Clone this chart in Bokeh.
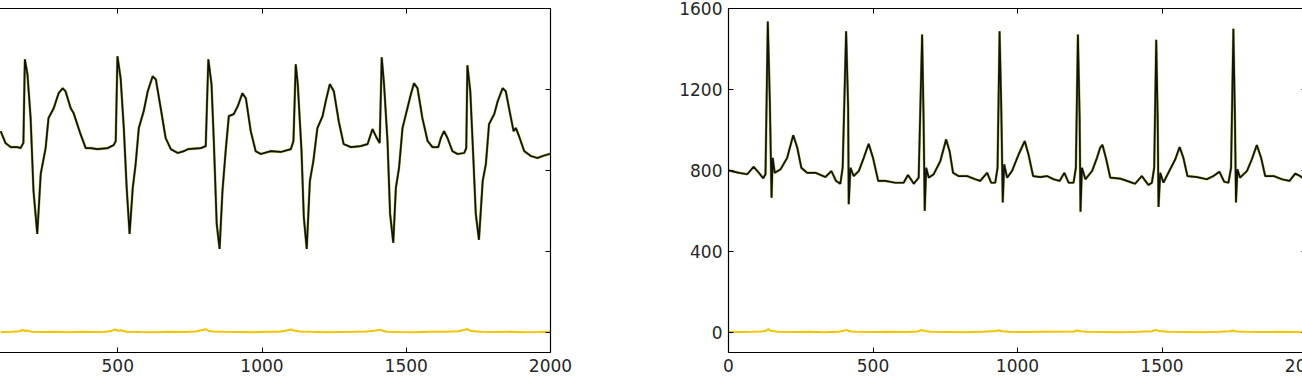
from bokeh.plotting import figure
from bokeh.models import Range1d, LinearAxis, FixedTicker
from bokeh.layouts import row
from bokeh.embed import file_html
from bokeh.resources import INLINE

# ---------------- data ----------------
x_ticks = [0, 500, 1000, 1500, 2000]
y_ticks = [0, 400, 800, 1200, 1600]

left_x = [94, 111, 129, 153, 163, 173, 178, 187, 198, 208,
          221, 233, 250, 260, 278, 295, 309, 319, 337, 347,
          371, 389, 406, 430, 465, 486, 493, 499, 510, 521,
          531, 541, 552, 562, 573, 590, 604, 621, 632, 649,
          666, 684, 708, 729, 743, 788, 805, 814, 825, 833,
          843, 853, 863, 874, 885, 902, 916, 932, 944, 961,
          978, 996, 1030, 1065, 1100, 1109, 1117, 1124, 1137, 1145,
          1155, 1166, 1178, 1192, 1210, 1221, 1235, 1249, 1266, 1283,
          1308, 1342, 1366, 1383, 1398, 1408, 1415, 1423, 1435, 1444,
          1455, 1464, 1475, 1487, 1504, 1516, 1527, 1539, 1556, 1574,
          1591, 1611, 1620, 1631, 1643, 1660, 1678, 1701, 1708, 1712,
          1722, 1733, 1741, 1752, 1765, 1776, 1787, 1805, 1817, 1834,
          1845, 1863, 1872, 1880, 1891, 1909, 1932, 1955, 1973, 1996,
          2000]
left_ecg = [994, 935, 915, 915, 910, 936, 1349, 1275, 1058, 698,
            486, 782, 910, 1058, 1107, 1181, 1206, 1191, 1107, 1083,
            979, 910, 910, 905, 910, 925, 945, 1364, 1255, 1009,
            713, 486, 713, 831, 1009, 1093, 1191, 1265, 1250, 1107,
            960, 905, 886, 895, 905, 910, 920, 1349, 1226, 945,
            536, 412, 698, 895, 1068, 1078, 1117, 1181, 1157, 994,
            895, 881, 895, 891, 905, 945, 1324, 1226, 895, 568,
            412, 748, 846, 1009, 1068, 1142, 1226, 1191, 1043, 930,
            915, 920, 930, 1004, 960, 935, 1359, 1226, 945, 585,
            442, 713, 812, 1009, 1107, 1176, 1231, 1206, 1058, 945,
            915, 915, 960, 994, 960, 895, 881, 886, 910, 1319,
            1191, 846, 585, 457, 748, 831, 1029, 1078, 1142, 1206,
            1191, 1058, 994, 1009, 969, 895, 871, 861, 871, 881,
            881]

left_res_x = [94, 130, 160, 170, 178, 186, 200, 240, 280, 330,
              380, 420, 460, 480, 492, 500, 510, 530, 580, 630,
              680, 730, 770, 790, 805, 815, 830, 870, 920, 970,
              1020, 1060, 1085, 1100, 1115, 1130, 1170, 1220, 1270, 1320,
              1360, 1395, 1410, 1420, 1435, 1480, 1530, 1580, 1640, 1680,
              1700, 1712, 1725, 1760, 1810, 1860, 1910, 1960, 2000]
left_res = [0, 2, 5, 12, 6, 9, 3, 1, 2, 0,
            2, 1, 3, 8, 14, 7, 10, 3, 1, 0,
            2, 1, 4, 10, 15, 8, 4, 2, 1, 0,
            2, 3, 9, 14, 7, 4, 2, 0, 1, 2,
            4, 9, 13, 6, 3, 1, 0, 2, 3, 5,
            11, 16, 6, 3, 1, 2, 0, 1, 2]

right_x = [0, 36, 65, 87, 105, 120, 128, 136, 143, 149,
           153, 160, 180, 203, 224, 238, 252, 272, 301, 335,
           356, 372, 387, 395, 407, 414, 416, 422, 433, 451,
           468, 485, 500, 518, 543, 577, 606, 621, 635, 641,
           658, 670, 675, 679, 684, 693, 710, 733, 753, 765,
           777, 796, 825, 854, 871, 895, 909, 923, 931, 938,
           944, 949, 954, 964, 981, 1004, 1025, 1038, 1054, 1079,
           1102, 1125, 1146, 1162, 1177, 1194, 1202, 1209, 1215, 1218,
           1223, 1235, 1258, 1275, 1286, 1294, 1307, 1321, 1356, 1379,
           1407, 1430, 1453, 1465, 1473, 1480, 1485, 1488, 1494, 1505,
           1528, 1546, 1561, 1574, 1588, 1621, 1655, 1678, 1699, 1715,
           1730, 1739, 1747, 1752, 1756, 1761, 1770, 1794, 1811, 1828,
           1843, 1857, 1886, 1915, 1941, 1961, 1978, 1985, 2000]
right_ecg = [800, 788, 781, 818, 788, 761, 781, 1536, 1142, 665,
             862, 788, 805, 862, 974, 912, 813, 788, 788, 767,
             797, 748, 734, 813, 1487, 1109, 633, 813, 772, 797,
             862, 931, 862, 748, 748, 739, 739, 777, 748, 734,
             764, 1471, 1058, 600, 813, 764, 781, 846, 953, 895,
             788, 772, 772, 756, 748, 788, 739, 739, 813, 1487,
             1093, 641, 830, 764, 797, 879, 945, 879, 772, 767,
             772, 756, 748, 788, 739, 739, 813, 1471, 1058, 596,
             813, 756, 797, 862, 912, 926, 855, 764, 759, 748,
             734, 772, 728, 739, 813, 1446, 1058, 619, 788, 739,
             805, 855, 915, 862, 772, 767, 756, 772, 793, 744,
             739, 813, 1500, 1093, 641, 805, 764, 797, 855, 925,
             862, 772, 772, 756, 748, 784, 772, 764, 770]

right_res_x = [0, 40, 80, 115, 130, 138, 146, 170, 220, 280,
               330, 380, 398, 408, 418, 440, 500, 560, 620, 655,
               668, 678, 700, 760, 820, 880, 925, 936, 946, 970,
               1030, 1090, 1150, 1195, 1207, 1217, 1240, 1300, 1360, 1420,
               1465, 1478, 1490, 1520, 1580, 1640, 1700, 1735, 1746, 1756,
               1790, 1850, 1910, 2000]
right_res = [3, 1, 2, 4, 8, 16, 7, 3, 1, 2,
             0, 2, 7, 12, 5, 2, 1, 3, 1, 4,
             11, 6, 2, 1, 0, 2, 6, 10, 5, 2,
             1, 3, 2, 4, 9, 5, 2, 1, 0, 2,
             5, 12, 6, 2, 1, 0, 2, 5, 9, 4,
             2, 1, 2, 0]

# ---------------- style ----------------
FONT = "DejaVu Sans"
FSIZE = "17px"
TXT = "#262626"
ORIG = "#a9b83c"
RECON = "#111111"
RESID = "#f5c400"


def style_axis(ax, ticks, show_labels):
    ax.ticker = FixedTicker(ticks=ticks)
    ax.major_tick_in = 5
    ax.major_tick_out = 0
    ax.minor_tick_line_color = None
    ax.axis_line_color = "black"
    ax.axis_line_width = 1.2
    ax.major_tick_line_color = "black"
    ax.major_tick_line_width = 1
    if show_labels:
        ax.major_label_text_font = FONT
        ax.major_label_text_font_size = FSIZE
        ax.major_label_text_color = TXT
        ax.major_label_standoff = 6
    else:
        ax.major_label_overrides = {t: "" for t in ticks}
        ax.major_label_text_font_size = "1px"
        ax.major_label_standoff = 0


def panel(xs, ys, rx, ry, width, bl, br, **kw):
    p = figure(width=width, height=378, output_backend="svg", toolbar_location=None,
               x_range=Range1d(0, 2000), y_range=Range1d(-100, 1600),
               x_axis_location="below", y_axis_location="left",
               min_border_left=bl, min_border_right=br, min_border_top=8,
               min_border_bottom=26, **kw)
    p.outline_line_color = None
    p.grid.visible = False
    p.background_fill_color = "white"
    p.border_fill_color = "white"
    style_axis(p.xaxis[0], x_ticks, True)
    style_axis(p.yaxis[0], y_ticks, True)
    top = LinearAxis()
    style_axis(top, x_ticks, False)
    p.add_layout(top, "above")
    right = LinearAxis()
    style_axis(right, y_ticks, False)
    p.add_layout(right, "right")
    p.line(rx, ry, line_color=RESID, line_width=2)
    p.line(xs, ys, line_color=ORIG, line_width=2.6)
    p.line(xs, ys, line_color=RECON, line_width=1.7)
    return p


# left panel: its left part (y labels, x = 0) lies outside the picture
p1 = panel(left_x, left_ecg, left_res_x, left_res, 687, 60, 50, margin=(0, 0, 0, -87))
# right panel: its right edge lies just outside the picture
p2 = panel(right_x, right_ecg, right_res_x, right_res, 736, 128, 30)

layout = row(p1, p2, width=1302, height=378, sizing_mode="fixed",
             styles={"overflow": "hidden"})
open("out.html", "w").write(file_html(layout, INLINE))
